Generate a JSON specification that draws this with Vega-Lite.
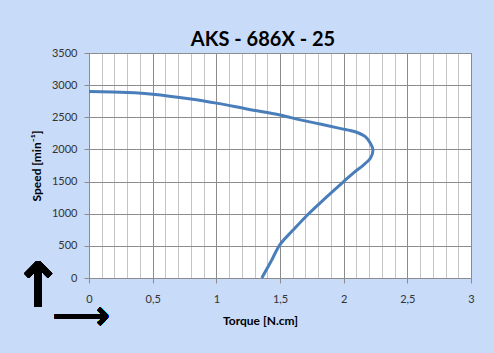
{
  "$schema": "https://vega.github.io/schema/vega-lite/v6.json",
  "width": 382,
  "height": 225,
  "autosize": {"type": "none"},
  "padding": {"left": 89, "top": 53, "right": 23, "bottom": 75},
  "background": "#c8dbf8",
  "title": {"text": "AKS - 686X - 25", "font": "Lato", "fontSize": 20, "fontWeight": "bold", "color": "#000000", "offset": 4, "dx": -17, "dy": 7},
  "config": {
    "view": {"fill": "#ffffff", "stroke": "#8c8c8c", "strokeWidth": 1},
    "axis": {"labelFont": "Lato", "labelFontSize": 11, "labelColor": "#333333", "titleFont": "Lato", "titleFontSize": 12, "titleFontWeight": "bold", "titleColor": "#000000", "domainColor": "#8c8c8c", "tickColor": "#8c8c8c", "labelOverlap": false}
  },
  "data": {"values": [
    {"o": 1, "torque": 0.0, "speed": 2900},
    {"o": 2, "torque": 0.3, "speed": 2885},
    {"o": 3, "torque": 0.5, "speed": 2860},
    {"o": 4, "torque": 0.8, "speed": 2785},
    {"o": 5, "torque": 1.0, "speed": 2720},
    {"o": 6, "torque": 1.25, "speed": 2625},
    {"o": 7, "torque": 1.5, "speed": 2535},
    {"o": 8, "torque": 1.66, "speed": 2460},
    {"o": 9, "torque": 1.815, "speed": 2395},
    {"o": 10, "torque": 1.97, "speed": 2328},
    {"o": 11, "torque": 2.09, "speed": 2275},
    {"o": 12, "torque": 2.17, "speed": 2198},
    {"o": 13, "torque": 2.21, "speed": 2095},
    {"o": 14, "torque": 2.23, "speed": 1990},
    {"o": 15, "torque": 2.21, "speed": 1862},
    {"o": 16, "torque": 2.155, "speed": 1757},
    {"o": 17, "torque": 2.08, "speed": 1640},
    {"o": 18, "torque": 2.0, "speed": 1500},
    {"o": 19, "torque": 1.86, "speed": 1250},
    {"o": 20, "torque": 1.725, "speed": 1000},
    {"o": 21, "torque": 1.605, "speed": 750},
    {"o": 22, "torque": 1.5, "speed": 520},
    {"o": 23, "torque": 1.43, "speed": 260},
    {"o": 24, "torque": 1.357, "speed": 0}
  ]},
  "layer": [
    {
      "mark": {"type": "line", "interpolate": "catmull-rom", "color": "#4a7ebb", "strokeWidth": 3},
      "encoding": {
        "x": {"field": "torque", "type": "quantitative", "scale": {"domain": [0, 3], "nice": false},
          "axis": {"title": "Torque [N.cm]", "tickCount": 31, "values": [0,0.1,0.2,0.3,0.4,0.5,0.6,0.7,0.8,0.9,1,1.1,1.2,1.3,1.4,1.5,1.6,1.7,1.8,1.9,2,2.1,2.2,2.3,2.4,2.5,2.6,2.7,2.8,2.9,3],
            "labelExpr": "abs(datum.value*2 - round(datum.value*2)) < 0.001 ? replace(toString(datum.value), '.', ',') : ''",
            "gridColor": {"condition": {"test": "abs(datum.value*2 - round(datum.value*2)) < 0.001", "value": "#8c8c8c"}, "value": "#c4c4c4"},
            "tickColor": {"condition": {"test": "abs(datum.value*2 - round(datum.value*2)) < 0.001", "value": "#8c8c8c"}, "value": "transparent"},
            "tickSize": 5, "labelPadding": 10, "titlePadding": 11, "titleX": 171, "labelFlush": false}},
        "y": {"field": "speed", "type": "quantitative", "scale": {"domain": [0, 3500], "nice": false},
          "axis": {"title": "Speed [min⁻¹]", "tickCount": 8, "values": [0,500,1000,1500,2000,2500,3000,3500], "format": "d", "gridColor": "#8c8c8c", "tickSize": 5, "labelPadding": 7, "titlePadding": 8, "labelFlush": false}},
        "order": {"field": "o", "type": "quantitative"}
      }
    },
    {
      "mark": {"type": "text", "text": "↑", "font": "DejaVu Sans", "fontSize": 62, "fontWeight": "bold", "color": "#000000", "clip": false, "baseline": "middle", "align": "center"},
      "encoding": {"x": {"datum": -0.4}, "y": {"datum": -150}}
    },
    {
      "mark": {"type": "text", "text": "⟶", "font": "DejaVu Sans", "fontSize": 40, "fontWeight": "bold", "color": "#000000", "clip": false, "baseline": "middle", "align": "center"},
      "encoding": {"x": {"datum": -0.06}, "y": {"datum": -607}}
    }
  ]
}
